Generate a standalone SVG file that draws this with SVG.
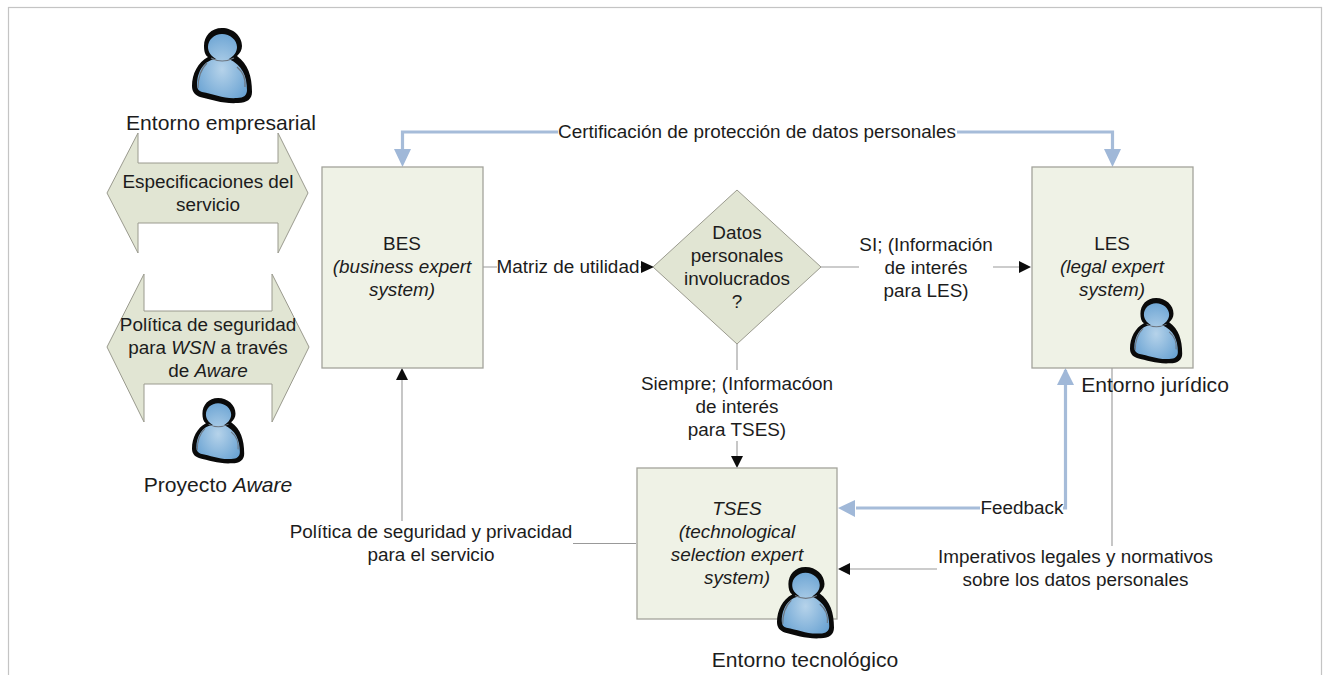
<svg xmlns="http://www.w3.org/2000/svg" width="1330" height="675" viewBox="0 0 1330 675">
<style>
text{font-family:"Liberation Sans",Arial,sans-serif;font-size:18.9px;fill:#1c1c1c;text-anchor:middle}
.big{font-size:21.1px}
.i{font-style:italic}
.box{fill:#eff2e6;stroke:#a3a39b;stroke-width:1.3}
.dbl{fill:#e1e5d3;stroke:#9a9a8e;stroke-width:1}
.thin{fill:none;stroke:#999;stroke-width:1.100}
.blue{fill:none;stroke:#a6bcd9;stroke-width:3.2}
.ah{fill:#a0b8d8}
.bh{fill:#0c0c0c}
</style>
<defs>
<radialGradient id="g" cx="50%" cy="55%" r="60%"><stop offset="0" stop-color="#b6d3ea"/><stop offset="1" stop-color="#6aa3d3"/></radialGradient>
<g id="person">
<path d="M30 0C19 0 12 8 12 18C12 23 13 27 16 29C6 34 0 46 0 58C0 64 3 67 8 69C20 72 32 76 46 75C55 75 60 71 60 64C60 48 56 36 45 28C48 25 50 22 50 18C50 8 41 0 30 0Z" fill="#0a0a0a"/>
<path d="M30 6C22 6 16 12 16 19C16 24 19 28 24 31C12 32 5 44 5 57C5 61 7 63 10 64C22 66 32 71 45 70C52 70 55 67 55 62C55 48 50 37 37 31C42 28 45 24 45 19C45 12 38 6 30 6Z" fill="url(#g)"/>
<path d="M19 30Q30 36 42 30M6 60C6 50 8 42 15 35M53 59C54 50 51 44 45 39" fill="none" stroke="#6d7680" stroke-width="1.200"/>
</g>
</defs>
<rect x="8.500" y="7.500" width="1313" height="700" fill="#fff" stroke="#c4c4c4" stroke-width="1.200"/>

<g id="connectors">
<path class="blue" d="M402.500 151V132H1112.500V151"/>
<path class="ah" d="M394 149H411L402.500 167ZM1104 149H1121L1112.500 167Z"/>
<path class="blue" d="M1065.500 370V508H856"/>
<path class="ah" d="M1065.500 368L1057 385H1074ZM838 508L855 500V517Z"/>
<path class="thin" d="M483 267H641M821 267H1019"/>
<path class="bh" d="M641 261L654 267L641 273ZM1019 261L1031 267L1019 273Z"/>
<path class="thin" d="M737 344V456"/>
<path class="bh" d="M731 456H743L737 468Z"/>
<path class="thin" d="M636 543.500H402V380"/>
<path class="bh" d="M402 368L396 380H408Z"/>
<path class="thin" d="M1112 368V569H850"/>
<path class="bh" d="M838 569L850 563V575Z"/>
</g>

<g id="n-empresarial">
<use href="#person" x="192" y="28"/>
<text class="big" x="221" y="130">Entorno empresarial</text>
</g>
<g id="n-especificaciones">
<path class="dbl" d="M107 193L138 133V163H278V133L308 193L278 253V223H138V253Z"/>
<text x="208" y="188">Especificaciones del</text>
<text x="208" y="211">servicio</text>
</g>
<g id="n-politica">
<path class="dbl" d="M107 347L144 274V311H272V274L309 347L272 422V384H144V422Z"/>
<text x="208" y="331">Política de seguridad</text>
<text x="208" y="354">para <tspan class="i">WSN</tspan> a través</text>
<text x="208" y="377">de <tspan class="i">Aware</tspan></text>
</g>
<g id="n-aware">
<use href="#person" transform="translate(192 398) scale(.87)"/>
<text class="big" x="218" y="492">Proyecto <tspan class="i">Aware</tspan></text>
</g>
<g id="n-bes">
<rect class="box" x="322" y="167" width="161" height="201"/>
<text x="402" y="250">BES</text>
<text class="i" x="402" y="273">(business expert</text>
<text class="i" x="402" y="296">system)</text>
</g>
<g id="n-datos">
<path class="dbl" d="M737 190L821 267L737 344L653 267Z"/>
<text x="737" y="239">Datos</text>
<text x="737" y="262">personales</text>
<text x="737" y="285">involucrados</text>
<text x="737" y="308">?</text>
</g>
<g id="n-les">
<rect class="box" x="1032" y="167" width="161" height="201"/>
<text x="1112" y="250">LES</text>
<text class="i" x="1112" y="273">(legal expert</text>
<text class="i" x="1112" y="296">system)</text>
<use href="#person" transform="translate(1130 298) scale(.87)"/>
<text class="big" x="1155" y="392">Entorno jurídico</text>
</g>
<g id="n-tses">
<rect class="box" x="637" y="468" width="200" height="151"/>
<text class="i" x="737" y="515">TSES</text>
<text class="i" x="737" y="538">(technological</text>
<text class="i" x="737" y="561">selection expert</text>
<text class="i" x="737" y="584">system)</text>
<use href="#person" transform="translate(777 567) scale(.95)"/>
<text class="big" x="805" y="667">Entorno tecnológico</text>
</g>

<g id="labels">
<rect x="558" y="122" width="399" height="20" fill="#fff"/>
<text x="757" y="138">Certificación de protección de datos personales</text>
<rect x="497" y="258" width="143" height="20" fill="#fff"/>
<text x="568" y="273">Matriz de utilidad</text>
<rect x="859" y="232" width="134" height="66" fill="#fff"/>
<text x="926" y="251">SI; (Información</text>
<text x="926" y="274">de interés</text>
<text x="926" y="297">para LES)</text>
<rect x="640" y="370" width="196" height="71" fill="#fff"/>
<text x="737" y="390">Siempre; (Informacóon</text>
<text x="737" y="413">de interés</text>
<text x="737" y="436">para TSES)</text>
<rect x="288" y="521" width="285" height="45" fill="#fff"/>
<text x="431" y="538">Política de seguridad y privacidad</text>
<text x="431" y="561">para el servicio</text>
<rect x="980" y="498" width="83" height="20" fill="#fff"/>
<text x="1022" y="514">Feedback</text>
<rect x="937" y="546" width="278" height="46" fill="#fff"/>
<text x="1075.500" y="563">Imperativos legales y normativos</text>
<text x="1075.500" y="586">sobre los datos personales</text>
</g>
</svg>
